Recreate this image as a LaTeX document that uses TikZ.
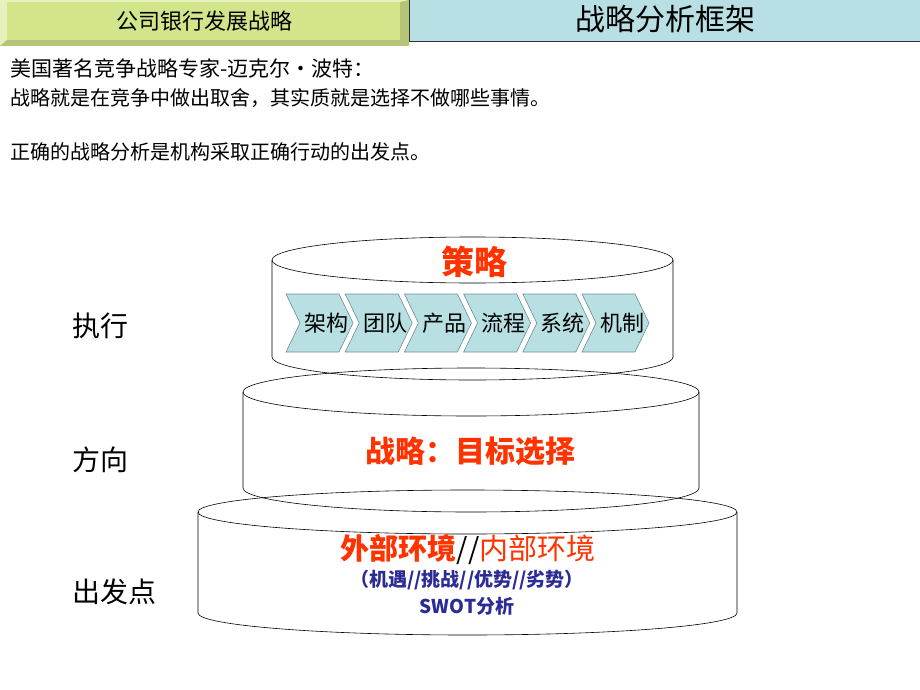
\documentclass[tikz,border=0pt]{standalone}
\usepackage{fontspec}
\setmainfont{Noto Sans CJK SC}
\usepackage{tikz}
\usetikzlibrary{positioning,calc}
\definecolor{hdrgreen}{HTML}{D3E58B}
\definecolor{hdrlight}{HTML}{E6F1BE}
\definecolor{hdrdark}{HTML}{B6C477}
\definecolor{hdrblue}{HTML}{B8DFE3}
\definecolor{chevfill}{HTML}{B8DFE2}
\definecolor{chevline}{HTML}{6F8E93}
\definecolor{accent}{HTML}{FF3300}
\definecolor{navy}{HTML}{2B2B96}
\tikzset{
    plain/.style={font=\fontsize{#1}{#1}\selectfont, inner sep=0pt},
    hot/.style={font=\fontsize{#1}{#1}\selectfont\bfseries, inner sep=0pt, text=accent},
    cool/.style={font=\fontsize{#1}{#1}\selectfont\bfseries, inner sep=0pt, text=navy},
    chev/.style={fill=chevfill, draw=chevline, line width=0.6pt},
    drum/.style={draw=black, line width=0.6pt},
}

\begin{document}
\begin{tikzpicture}[x=1pt, y=-1pt]
    \useasboundingbox (0,0) rectangle (920,690);

    % header
    \fill[hdrlight] (0,0) rectangle (409,46);
    \fill[hdrdark] (409,0) -- (400,2) -- (400,40) -- (7,40) -- (0,46) -- (409,46) -- cycle;
    \fill[hdrgreen] (7,2) rectangle (400,40);
    \node[plain=22] (hdr-l) at (204,21) {公司银行发展战略};
    \draw[fill=hdrblue, draw=black!80, line width=0.8pt] (409,-1) rectangle (921,41);
    \node[plain=30] (hdr-r) at (665,19) {战略分析框架};

    % quote
    \node[plain=21, anchor=west] (q-1) at (10,68) {美国著名竞争战略专家-迈克尔·波特：};
    \node[plain=20, anchor=west] (q-2) at (10,98) {战略就是在竞争中做出取舍，其实质就是选择不做哪些事情。};
    \node[plain=20, anchor=west] (q-3) at (10,152) {正确的战略分析是机构采取正确行动的出发点。};

    % three drums
    \foreach[count=\i] \lx/\rx/\ty/\by/\ry in {272/673/260/357/23, 243/699/392/488/24, 198/737/512/613/22} {
        \pgfmathsetmacro\cx{(\lx+\rx)/2}
        \pgfmathsetmacro\rr{(\rx-\lx)/2}
        \draw[drum] (\cx,\ty) ellipse [x radius=\rr, y radius=\ry];
        \draw[drum] (\lx,\ty) -- (\lx,\by) arc[start angle=180, end angle=0, x radius=\rr, y radius=\ry] -- (\rx,\ty);
    }

    % chevrons
    \foreach[count=\j] \lbl in {架构,团队,产品,流程,系统,机制} {
        \pgfmathsetmacro\xo{286+(\j-1)*59.2}
        \draw[chev] (\xo,294) -- ++(53,0) -- ++(14,29) -- ++(-14,29) -- ++(-53,0) -- ++(14,-29) -- cycle;
        \node[plain=22] (chev-\j) at (\xo+40,323) {\lbl};
    }

    \node[hot=33] (top-t) at (474,262) {策略};
    \node[hot=30] (mid-t) at (470,451) {战略：目标选择};
    \node[plain=29] (low-t) at (468,550) {\textcolor{accent}{\bfseries 外部环境}//\textcolor{accent}{内部环境}};
    \node[cool=19] (low-s) at (467,580) {（机遇//挑战//优势//劣势）};
    \node[cool=19] (low-w) at (467,606) {SWOT分析};

    % side labels
    \node[plain=28, anchor=west] (lab-1) at (72,326) {执行};
    \node[plain=28, anchor=west] (lab-2) at (72,460) {方向};
    \node[plain=28, anchor=west] (lab-3) at (72,592) {出发点};
\end{tikzpicture}
\end{document}
